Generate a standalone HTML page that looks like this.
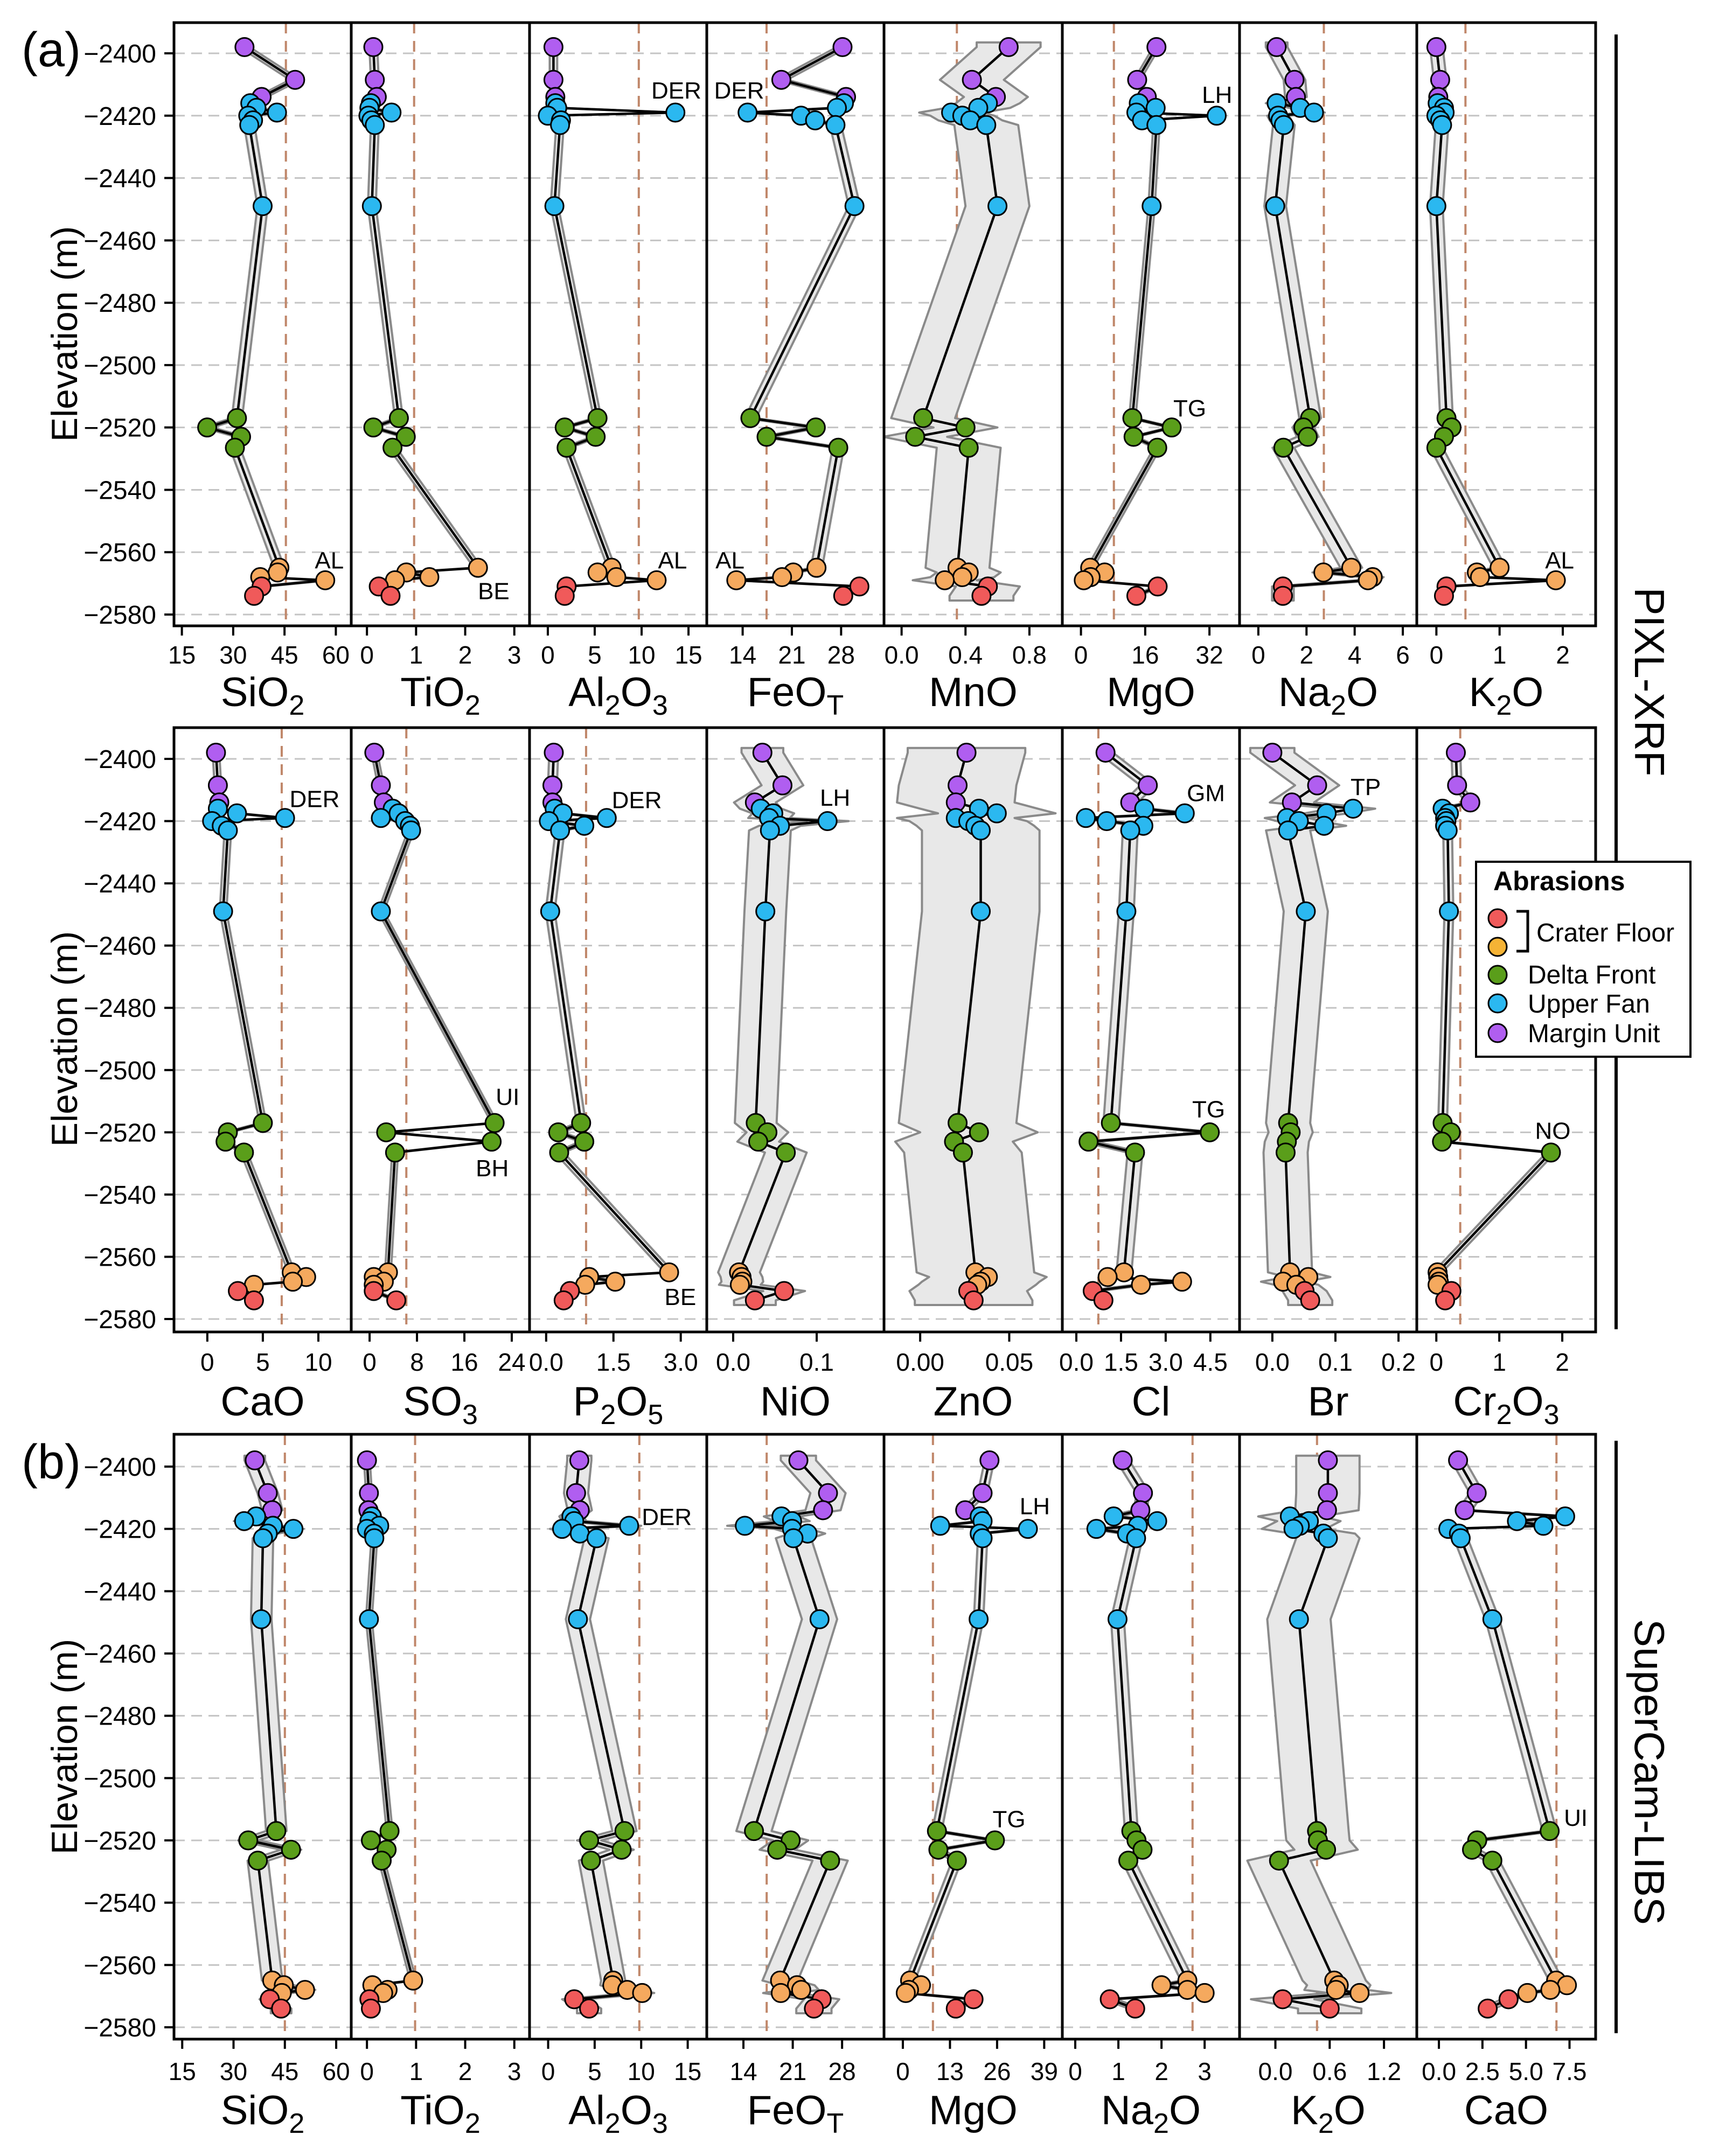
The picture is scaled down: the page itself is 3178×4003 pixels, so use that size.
<!DOCTYPE html>
<html><head><meta charset="utf-8"><title>Elevation profiles</title>
<style>html,body{margin:0;padding:0;background:#fff}svg{display:block}text{font-family:"Liberation Sans",Arial,sans-serif}</style>
</head><body>
<svg id="fig" xmlns="http://www.w3.org/2000/svg" width="3178" height="4003" viewBox="0 0 3178 4003">
<rect width="3178" height="4003" fill="#fff"/>
<text x="40" y="123" font-size="90">(a)</text>
<text x="40" y="2745" font-size="90">(b)</text>
<text transform="translate(143,620) rotate(-90)" text-anchor="middle" font-size="68">Elevation (m)</text>
<text transform="translate(143,1929) rotate(-90)" text-anchor="middle" font-size="68">Elevation (m)</text>
<text transform="translate(143,3243) rotate(-90)" text-anchor="middle" font-size="68">Elevation (m)</text>
<line x1="3000" y1="64" x2="3000" y2="2468" stroke="#000" stroke-width="6"/>
<line x1="3000" y1="2675" x2="3000" y2="3775" stroke="#000" stroke-width="6"/>
<text transform="translate(3035,1266) rotate(90)" text-anchor="middle" font-size="78">PIXL-XRF</text>
<text transform="translate(3035,3290) rotate(90)" text-anchor="middle" font-size="78">SuperCam-LIBS</text>
<g id="plots"></g>
<g>
<rect x="2740" y="1600" width="398" height="362" fill="#fff" stroke="#000" stroke-width="4"/>
<text x="2772" y="1653" font-size="50" font-weight="bold">Abrasions</text>
<circle cx="2780" cy="1705" r="17" fill="#f05a5a" stroke="#000" stroke-width="3"/>
<circle cx="2780" cy="1758" r="17" fill="#f5b335" stroke="#000" stroke-width="3"/>
<path d="M2815 1692 H2836 V1766 H2815" fill="none" stroke="#000" stroke-width="5"/>
<text x="2852" y="1748" font-size="48">Crater Floor</text>
<circle cx="2780" cy="1810" r="17" fill="#5a9e1a" stroke="#000" stroke-width="3"/>
<text x="2836" y="1826" font-size="48">Delta Front</text>
<circle cx="2780" cy="1863" r="17" fill="#2bb8f0" stroke="#000" stroke-width="3"/>
<text x="2836" y="1880" font-size="48">Upper Fan</text>
<circle cx="2780" cy="1918" r="17" fill="#b05ef0" stroke="#000" stroke-width="3"/>
<text x="2836" y="1935" font-size="48">Margin Unit</text>
</g>
</svg>
<script>
// sample elevations (m) and groups
const elevations = [-2398,-2408.5,-2414,-2416,-2417.5,-2419,-2420,-2421.5,-2423,-2449,-2517,-2520,-2523,-2526.5,-2565,-2566.5,-2568,-2569,-2571,-2574];
const groups = ['M','M','M','U','U','U','U','U','U','U','D','D','D','D','O','O','O','O','R','R'];
const yTicks = [-2400,-2420,-2440,-2460,-2480,-2500,-2520,-2540,-2560,-2580];
// PIXL-XRF row 1
const sio2A = [33.3,48.1,38.3,35,36.8,42.8,34.4,35.8,34.7,38.6,31.1,22.4,32.3,30.5,43.5,43,37.9,56.9,38.3,36.1];
const tio2A = [0.13,0.16,0.2,0.08,0.05,0.5,0.03,0.09,0.16,0.1,0.65,0.13,0.79,0.52,2.26,0.8,1.27,0.57,0.24,0.48];
const al2o3A = [0.6,0.6,0.8,0.8,1.0,13.6,0.0,1.4,1.3,0.7,5.3,1.8,5.1,2.0,6.8,5.3,7.3,11.6,2.0,1.8];
const feotA = [28.2,19.5,28.7,28.4,27.4,14.7,22.3,24.3,27.2,29.9,15.1,24.4,17.4,27.6,24.5,21.2,19.6,13.1,30.6,28.3];
const mnoA = [0.67,0.44,0.59,0.54,0.48,0.31,0.38,0.43,0.53,0.6,0.135,0.4,0.085,0.42,0.35,0.42,0.38,0.27,0.54,0.5];
const mgoA = [18.8,14.0,16.4,14.4,18.6,13.8,33.8,15.2,18.8,17.6,12.8,22.6,13.1,19.0,2.3,5.9,2.4,0.7,19.1,13.8];
const na2oA = [0.76,1.5,1.56,0.76,1.74,2.31,0.82,0.92,1.06,0.7,2.15,1.87,2.05,1.04,3.86,2.7,4.75,4.55,1.02,1.02];
const k2oA = [0.0,0.06,0.03,0.02,0.12,0.13,0.0,0.06,0.09,0.0,0.16,0.24,0.12,0.0,1.0,0.64,0.69,1.89,0.16,0.12];
// PIXL-XRF row 2
const caoA = [0.78,0.95,1.08,0.95,2.67,7.0,0.43,1.3,1.85,1.42,5.0,1.85,1.64,3.3,7.6,8.9,7.7,4.2,2.75,4.2];
const so3A = [0.8,1.9,2.4,3.9,4.9,1.9,6.0,6.8,7.0,1.9,21.1,2.8,20.6,4.3,3.1,0.7,2.4,0.7,0.7,4.5];
const p2o5A = [0.17,0.14,0.14,0.19,0.37,1.35,0.06,0.85,0.31,0.09,0.78,0.27,0.85,0.29,2.74,0.96,1.54,0.87,0.53,0.39];
const nioA = [0.035,0.059,0.026,0.033,0.048,0.043,0.113,0.056,0.044,0.0385,0.027,0.041,0.03,0.063,0.007,0.01,0.011,0.008,0.061,0.026];
const znoA = [0.026,0.021,0.020,0.033,0.043,0.020,0.027,0.031,0.034,0.034,0.021,0.033,0.019,0.024,0.031,0.038,0.034,0.032,0.027,0.030];
const clA = [0.98,2.4,1.81,2.28,3.64,0.32,1.02,2.25,1.81,1.68,1.16,4.48,0.41,1.97,1.6,1.05,3.55,2.17,0.55,0.91];
const brA = [0.0,0.071,0.031,0.128,0.086,0.023,0.042,0.082,0.025,0.053,0.025,0.029,0.023,0.021,0.028,0.057,0.017,0.038,0.051,0.06];
const cr2o3A = [0.31,0.33,0.54,0.10,0.2,0.14,0.16,0.14,0.18,0.2,0.10,0.23,0.09,1.82,0.02,0.03,0.04,0.02,0.24,0.14];
// SuperCam-LIBS row 3
const sio2B = [36.2,40.0,41.3,36.6,33.1,41.5,47.5,40,38.6,38.1,42.5,34.3,46.8,37.1,41.3,44.7,50.9,44.1,40.6,43.9];
const tio2B = [0.0,0.04,0.03,0.1,0.05,0.25,0.0,0.14,0.15,0.04,0.46,0.08,0.40,0.3,0.94,0.11,0.42,0.33,0.05,0.08];
const al2o3B = [3.35,3.0,3.4,2.5,2.8,8.7,1.5,3.4,5.2,3.2,8.2,4.4,7.9,4.6,6.99,6.9,8.5,10.1,2.8,4.4];
const feotB = [21.8,26.0,25.3,19.4,20.9,14.2,20.9,23.1,21.1,24.8,15.5,20.7,18.8,26.3,19.2,21.6,22.2,19.3,25.1,24.0];
const mgoB = [23.9,22.0,17.2,21.2,22.0,10.3,34.5,21.2,22.0,20.9,9.4,25.4,9.8,14.9,2.0,5.0,1.7,0.8,19.5,14.6];
const na2oB = [1.1,1.57,1.51,0.89,1.9,1.45,0.49,1.2,1.41,0.98,1.3,1.42,1.56,1.23,2.6,2.0,2.6,3.0,0.8,1.39];
const k2oB = [0.58,0.58,0.57,0.16,0.37,0.27,0.2,0.53,0.58,0.26,0.46,0.47,0.56,0.04,0.65,0.7,0.67,0.93,0.08,0.6];
const caoB = [1.1,2.17,1.48,7.25,4.48,6.0,0.54,1.15,1.25,3.07,6.36,2.2,1.9,3.07,6.73,7.35,6.4,5.08,4.0,2.8];
// tick label arrays
const ticksSiO2 = [15,30,45,60];
const ticksTiO2 = [0,1,2,3];
const ticksAl2O3 = [0,5,10,15];
const ticksFeOT = [14,21,28];
const ticksMnO = ['0.0','0.4','0.8'];
const ticksMgOA = [0,16,32];
const ticksNa2OA = [0,2,4,6];
const ticksK2OA = [0,1,2];
const ticksCaOA = [0,5,10];
const ticksSO3 = [0,8,16,24];
const ticksP2O5 = ['0.0','1.5','3.0'];
const ticksNiO = ['0.0','0.1'];
const ticksZnO = ['0.00','0.05'];
const ticksCl = ['0.0','1.5','3.0','4.5'];
const ticksBr = ['0.0','0.1','0.2'];
const ticksCr2O3 = [0,1,2];
const ticksMgOB = [0,13,26,39];
const ticksNa2OB = [0,1,2,3];
const ticksK2OB = ['0.0','0.6','1.2'];
const ticksCaOB = ['0.0','2.5','5.0','7.5'];
// annotations: [rowIndex, panelIndex, text, value, elevation]
const annotations = [
 [0,0,'AL',58.1,-2562.6],[0,1,'BE',2.58,-2572.5],[0,2,'DER',13.7,-2411.9],[0,2,'AL',13.3,-2562.6],
 [0,3,'DER',13.5,-2411.9],[0,3,'AL',12.2,-2562.6],[0,5,'LH',33.9,-2413.3],[0,5,'TG',27.1,-2513.8],[0,7,'AL',1.95,-2562.6],
 [1,0,'DER',9.66,-2412.9],[1,1,'UI',23.3,-2508.6],[1,1,'BH',20.7,-2531.5],[1,2,'DER',2.02,-2413.2],[1,2,'BE',2.99,-2572.9],
 [1,3,'LH',0.122,-2412.5],[1,5,'GM',4.35,-2411],[1,5,'TG',4.44,-2512.6],[1,6,'TP',0.148,-2409],[1,7,'NO',1.85,-2519.5],
 [2,2,'DER',12.75,-2416.2],[2,4,'LH',36.4,-2412.7],[2,4,'TG',29.3,-2513.2],[2,7,'UI',7.86,-2512.7]
];

const NS='http://www.w3.org/2000/svg';
const colors={M:'#b05ef0',U:'#2bb8f0',D:'#5a9e1a',O:'#f5a95e',R:'#f05a5a'};
const bx=[323,652,983,1312,1641,1972,2301,2630,2962];
const rows=[
 {top:42,bot:1162,y0:99,y1:1141,tb:1232,ttl:1311},
 {top:1351,bot:2473,y0:1409,y1:2449,tb:2545,ttl:2628},
 {top:2663,bot:3786,y0:2723,y1:3764,tb:3862,ttl:3944}
];
const panels=[
 [
  {t:'SiO_2',d:[12.7,64.5],v:sio2A,tk:ticksSiO2,ref:45.4,w:1.5},
  {t:'TiO_2',d:[-0.32,3.31],v:tio2A,tk:ticksTiO2,ref:0.96,w:0.08},
  {t:'Al_2O_3',d:[-1.95,16.95],v:al2o3A,tk:ticksAl2O3,ref:9.7,w:0.4},
  {t:'FeO_T',d:[8.9,34.1],v:feotA,tk:ticksFeOT,ref:17.4,w:0.8},
  {t:'MnO',d:[-0.11,1.006],v:mnoA,tk:ticksMnO,ref:0.346,w:0.2},
  {t:'MgO',d:[-4.64,39.5],v:mgoA,tk:ticksMgOA,ref:8.2,w:0.8},
  {t:'Na_2O',d:[-0.78,6.58],v:na2oA,tk:ticksNa2OA,ref:2.72,w:0.45},
  {t:'K_2O',d:[-0.31,2.52],v:k2oA,tk:ticksK2OA,ref:0.46,w:0.1}
 ],[
  {t:'CaO',d:[-3.0,12.96],v:caoA,tk:ticksCaOA,ref:6.7,w:0.3},
  {t:'SO_3',d:[-3.1,27],v:so3A,tk:ticksSO3,ref:6.2,w:0.5},
  {t:'P_2O_5',d:[-0.37,3.58],v:p2o5A,tk:ticksP2O5,ref:0.89,w:0.1},
  {t:'NiO',d:[-0.0316,0.1806],v:nioA,tk:ticksNiO,ref:null,w:0.025},
  {t:'ZnO',d:[-0.0203,0.0798],v:znoA,tk:ticksZnO,ref:null,w:0.033},
  {t:'Cl',d:[-0.47,5.48],v:clA,tk:ticksCl,ref:0.74,w:0.25},
  {t:'Br',d:[-0.052,0.229],v:brA,tk:ticksBr,ref:null,w:0.035},
  {t:'Cr_2O_3',d:[-0.31,2.53],v:cr2o3A,tk:ticksCr2O3,ref:0.38,w:0.07}
 ],[
  {t:'SiO_2',d:[12.6,64.4],v:sio2B,tk:ticksSiO2,ref:45,w:3},
  {t:'TiO_2',d:[-0.32,3.31],v:tio2B,tk:ticksTiO2,ref:0.98,w:0.06},
  {t:'Al_2O_3',d:[-2.0,17.05],v:al2o3B,tk:ticksAl2O3,ref:9.8,w:1.3},
  {t:'FeO_T',d:[8.8,33.95],v:feotB,tk:ticksFeOT,ref:17.3,w:2.5},
  {t:'MgO',d:[-5.2,44.0],v:mgoB,tk:ticksMgOB,ref:8.3,w:1.3},
  {t:'Na_2O',d:[-0.3,3.81],v:na2oB,tk:ticksNa2OB,ref:2.72,w:0.15},
  {t:'K_2O',d:[-0.396,1.5625],v:k2oB,tk:ticksK2OB,ref:0.46,w:0.35},
  {t:'CaO',d:[-1.27,9.0],v:caoB,tk:ticksCaOB,ref:6.75,w:0.4}
 ]
];
function mk(tag,attrs,parent){const e=document.createElementNS(NS,tag);for(const k in attrs)e.setAttribute(k,attrs[k]);parent.appendChild(e);return e;}
const root=document.getElementById('plots');
const defs=mk('defs',{},root);
rows.forEach((row,ri)=>{
 const yS=e=>row.y0+(-2400-e)*(row.y1-row.y0)/180;
 const rg=mk('g',{},root);
 
 
 yTicks.forEach(t=>{
  const yy=yS(t);
  const tl=mk('line',{x1:305,y1:yy,x2:323,y2:yy,stroke:'#000','stroke-width':4},rg);
  
  
  const tx=mk('text',{x:290,y:yy+17,'text-anchor':'end','font-size':48},rg);
  
  
  tx.textContent='\u2212'+String(-t);
 });
 panels[ri].forEach((p,pi)=>{
  const L=bx[pi],R=bx[pi+1];
  const xS=v=>L+(v-p.d[0])/(p.d[1]-p.d[0])*(R-L);
  const g=mk('g',{},rg);
  
  
  const cid='c'+ri+'_'+pi;
  const cp=mk('clipPath',{id:cid},defs);
  mk('rect',{x:L,y:row.top,width:R-L,height:row.bot-row.top},cp);
  const inner=mk('g',{'clip-path':'url(#'+cid+')'},g);
  yTicks.forEach(t=>{
   const gl=mk('line',{x1:L,x2:R,y1:yS(t),y2:yS(t),stroke:'#c4c4c4','stroke-width':3,'stroke-dasharray':'20 12'},inner);
   
   
  });
  if(p.ref!==null){
   const rl=mk('line',{x1:xS(p.ref),x2:xS(p.ref),y1:row.top,y2:row.bot,stroke:'#c0876a','stroke-width':4,'stroke-dasharray':'20 14'},inner);
   
   
  }
  const right=p.v.map((v,i)=>xS(v+p.w)+','+yS(elevations[i]));
  const left=p.v.map((v,i)=>xS(v-p.w)+','+yS(elevations[i])).reverse();
  const first=xS(p.v[0]-p.w)+','+yS(elevations[0]+1.5)+' '+xS(p.v[0]+p.w)+','+yS(elevations[0]+1.5);
  const lastI=p.v.length-1;
  const lastR=xS(p.v[lastI]+p.w)+','+yS(elevations[lastI]-1.5);
  const lastL=xS(p.v[lastI]-p.w)+','+yS(elevations[lastI]-1.5);
  const band=mk('polygon',{points:first+' '+right.join(' ')+' '+lastR+' '+lastL+' '+left.join(' '),fill:'#e8e8e8',stroke:'#8a8a8a','stroke-width':4,'stroke-linejoin':'round'},inner);
  
  
  const line=mk('polyline',{points:p.v.map((v,i)=>xS(v)+','+yS(elevations[i])).join(' '),fill:'none',stroke:'#000','stroke-width':4.5,'stroke-linejoin':'round'},inner);
  
  
  p.v.forEach((v,i)=>{
   const c=mk('circle',{cx:xS(v),cy:yS(elevations[i]),r:17,fill:colors[groups[i]],stroke:'#000','stroke-width':3},inner);
   
   
  });
  annotations.filter(a=>a[0]===ri&&a[1]===pi).forEach(a=>{
   const at=mk('text',{x:xS(a[3]),y:yS(a[4])+15,'text-anchor':'middle','font-size':44},g);
   
   
   at.textContent=a[2];
  });
  const fr=mk('rect',{x:L,y:row.top,width:R-L,height:row.bot-row.top,fill:'none',stroke:'#000','stroke-width':5},g);
  
  
  p.tk.forEach(t=>{
   const xx=xS(parseFloat(t));
   const tm=mk('line',{x1:xx,x2:xx,y1:row.bot,y2:row.bot+18,stroke:'#000','stroke-width':4},g);
   
   
   const tt=mk('text',{x:xx,y:row.tb,'text-anchor':'middle','font-size':46},g);
   
   
   tt.textContent=String(t);
  });
  const title=mk('text',{x:(L+R)/2,y:row.ttl,'text-anchor':'middle','font-size':76},g);
  
  
  const parts=p.t.split('_');
  parts.forEach((s,k)=>{
   if(k===0){const ts=mk('tspan',{},title);ts.textContent=s;return;}
   const sub=mk('tspan',{dy:16,'font-size':52},title);sub.textContent=s[0];
   if(s.length>1){const rest=mk('tspan',{dy:-16,'font-size':76},title);rest.textContent=s.slice(1);}
  });
 });
});
</script>
</body></html>
